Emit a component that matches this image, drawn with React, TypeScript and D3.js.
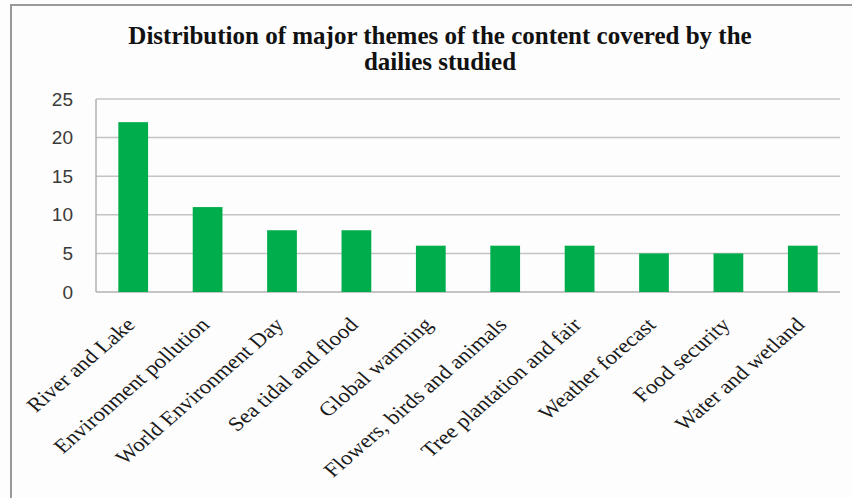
import * as d3 from "d3";
import { useEffect, useRef } from "react";

const themes = [
  "River and Lake",
  "Environment pollution",
  "World Environment Day",
  "Sea tidal and flood",
  "Global warming",
  "Flowers, birds and animals",
  "Tree plantation and fair",
  "Weather forecast",
  "Food security",
  "Water and wetland",
];
const counts = [22, 11, 8, 8, 6, 6, 6, 5, 5, 6];
const yTicks = [0, 5, 10, 15, 20, 25];
const titleLines = [
  "Distribution of major themes of the content covered by the",
  "dailies studied",
];

const width = 852;
const height = 498;

export default function App() {
  const ref = useRef<SVGSVGElement>(null);

  useEffect(() => {
    document.body.style.margin = "0";
    if (!ref.current) return;

    const svg = d3.select(ref.current);
    svg.selectAll("*").remove();

    svg.append("rect").attr("width", width).attr("height", height).attr("fill", "#fdfdfd");

    // outer frame (only left and top edges are in view)
    svg
      .append("path")
      .attr("d", `M11,${height} L11,5 L${width},5`)
      .attr("fill", "none")
      .attr("stroke", "#9a9a9a")
      .attr("stroke-width", 2);

    const margin = { top: 99, right: 12, bottom: 206, left: 96 };
    const innerWidth = width - margin.left - margin.right;
    const innerHeight = height - margin.top - margin.bottom;

    const g = svg
      .append("g")
      .attr("transform", `translate(${margin.left},${margin.top})`);

    const x = d3
      .scaleBand()
      .domain(themes)
      .range([0, innerWidth])
      .paddingInner(0.6)
      .paddingOuter(0.3);

    const y = d3.scaleLinear().domain([0, 25]).range([innerHeight, 0]);

    // gridlines
    g.selectAll(".grid")
      .data(yTicks)
      .enter()
      .append("line")
      .attr("x1", 0)
      .attr("x2", innerWidth)
      .attr("y1", (d) => y(d))
      .attr("y2", (d) => y(d))
      .attr("stroke", (d) => (d === 0 ? "#b0b0b0" : "#c4c4c4"))
      .attr("stroke-width", 1.5);

    g.append("line")
      .attr("x1", 0)
      .attr("x2", 0)
      .attr("y1", 0)
      .attr("y2", innerHeight)
      .attr("stroke", "#b0b0b0")
      .attr("stroke-width", 1.5);

    g.selectAll(".ylab")
      .data(yTicks)
      .enter()
      .append("text")
      .attr("x", -23)
      .attr("y", (d) => y(d))
      .attr("dy", "0.35em")
      .attr("text-anchor", "end")
      .attr("font-family", "'Liberation Sans', sans-serif")
      .attr("font-size", 19)
      .attr("fill", "#3a3a3a")
      .text((d) => d);

    g.selectAll(".bar")
      .data(counts)
      .enter()
      .append("rect")
      .attr("x", (_, i) => x(themes[i])!)
      .attr("y", (d) => y(d))
      .attr("width", x.bandwidth())
      .attr("height", (d) => innerHeight - y(d))
      .attr("fill", "#00AD4D");

    // category labels: rotated and a bit stretched sideways like the source
    g.selectAll(".xlab")
      .data(themes)
      .enter()
      .append("text")
      .attr("transform", (d) => {
        const cx = x(d)! + x.bandwidth() / 2 + 3;
        return `translate(${cx},${innerHeight + 34}) scale(1.15,1) rotate(-45)`;
      })
      .attr("text-anchor", "end")
      .attr("font-family", "'Liberation Serif', 'Times New Roman', serif")
      .attr("font-size", 20)
      .attr("fill", "#1a1a1a")
      .text((d) => d);

    svg
      .selectAll(".title")
      .data(titleLines)
      .enter()
      .append("text")
      .attr("x", 440)
      .attr("y", (_, i) => 44 + i * 26)
      .attr("text-anchor", "middle")
      .attr("font-family", "'Liberation Serif', 'Times New Roman', serif")
      .attr("font-weight", "bold")
      .attr("font-size", 25)
      .attr("fill", "#111")
      .text((d) => d);
  }, []);

  return <svg ref={ref} width={width} height={height} style={{ display: "block" }} />;
}
